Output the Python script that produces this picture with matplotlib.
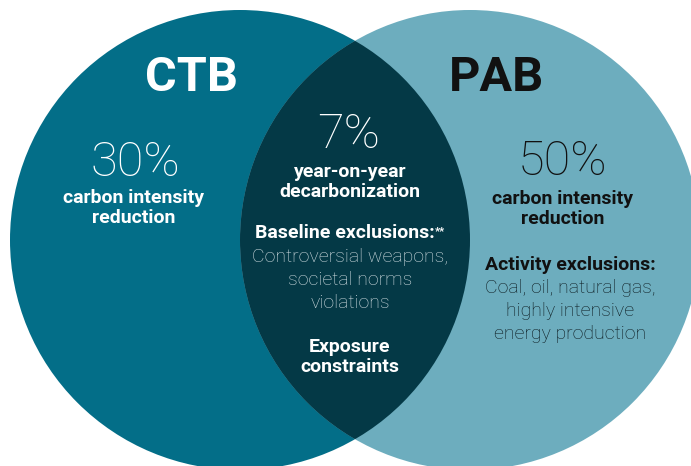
import matplotlib.pyplot as plt
from matplotlib.patches import Circle

plt.rcParams['font.family'] = ['Roboto', 'DejaVu Sans']

# labels
set_names = ['CTB', 'PAB']
set_pcts = ['30%', '50%']
set_desc = ['carbon intensity\nreduction', 'carbon intensity\nreduction']
shared_pct = '7%'
shared_desc = 'year-on-year\ndecarbonization'
shared_excl_title = 'Baseline exclusions:'
shared_excl_note = '**'
shared_excl = 'Controversial weapons,\nsocietal norms\nviolations'
shared_extra = 'Exposure\nconstraints'
pab_excl_title = 'Activity exclusions:'
pab_excl = 'Coal, oil, natural gas,\nhighly intensive\nenergy production'

c_left = '#036E88'
c_right = '#6DADBE'
c_mid = '#043946'

fig = plt.figure(figsize=(6.91, 4.66), dpi=100)
ax = fig.add_axes([0, 0, 1, 1])
ax.set_xlim(0, 691)
ax.set_ylim(466, 0)
ax.set_aspect('equal')
ax.axis('off')

r = 230
left = Circle((240, 240), r, color=c_left, lw=0)
right = Circle((470, 240), r, color=c_right, lw=0)
ax.add_patch(left)
ax.add_patch(right)
lens = Circle((470, 240), r, color=c_mid, lw=0)
ax.add_patch(lens)
lens.set_clip_path(left)

big = 35
pct = 35
body = 14

# left circle
ax.text(192, 78, set_names[0], ha='center', va='center', color='white',
        fontsize=big, fontweight='bold')
ax.text(135, 163, set_pcts[0], ha='center', va='center', color='white',
        fontsize=pct, fontweight='light')
ax.text(134, 208, set_desc[0], ha='center', va='center', color='white',
        fontsize=body, fontweight='bold', linespacing=1.1)

# right circle
ax.text(497, 78, set_names[1], ha='center', va='center', color='#111111',
        fontsize=big, fontweight='bold')
ax.text(563, 162, set_pcts[1], ha='center', va='center', color='#111111',
        fontsize=pct, fontweight='light')
ax.text(563, 209, set_desc[1], ha='center', va='center', color='#111111',
        fontsize=body, fontweight='bold', linespacing=1.1)
ax.text(570, 265, pab_excl_title, ha='center', va='center', color='#111111',
        fontsize=body, fontweight='bold')
ax.text(570, 311, pab_excl, ha='center', va='center', color='#0b191e',
        fontsize=body, fontweight='light', linespacing=1.38)

# overlap
ax.text(349, 135, shared_pct, ha='center', va='center', color='white',
        fontsize=pct, fontweight='light')
ax.text(350, 182, shared_desc, ha='center', va='center', color='white',
        fontsize=body, fontweight='bold', linespacing=1.1)
t = ax.text(345, 233, shared_excl_title, ha='center', va='center', color='white',
            fontsize=body, fontweight='bold')
ax.annotate(shared_excl_note, xy=(1, 0.9), xycoords=t, ha='left', va='top',
            color='white', fontsize=8, fontweight='bold')
ax.text(350, 280, shared_excl, ha='center', va='center', color='#d3dfe3',
        fontsize=body, fontweight='light', linespacing=1.38)
ax.text(350, 357, shared_extra, ha='center', va='center', color='white',
        fontsize=body, fontweight='bold', linespacing=1.1)

fig.savefig('out.png', dpi=100)
